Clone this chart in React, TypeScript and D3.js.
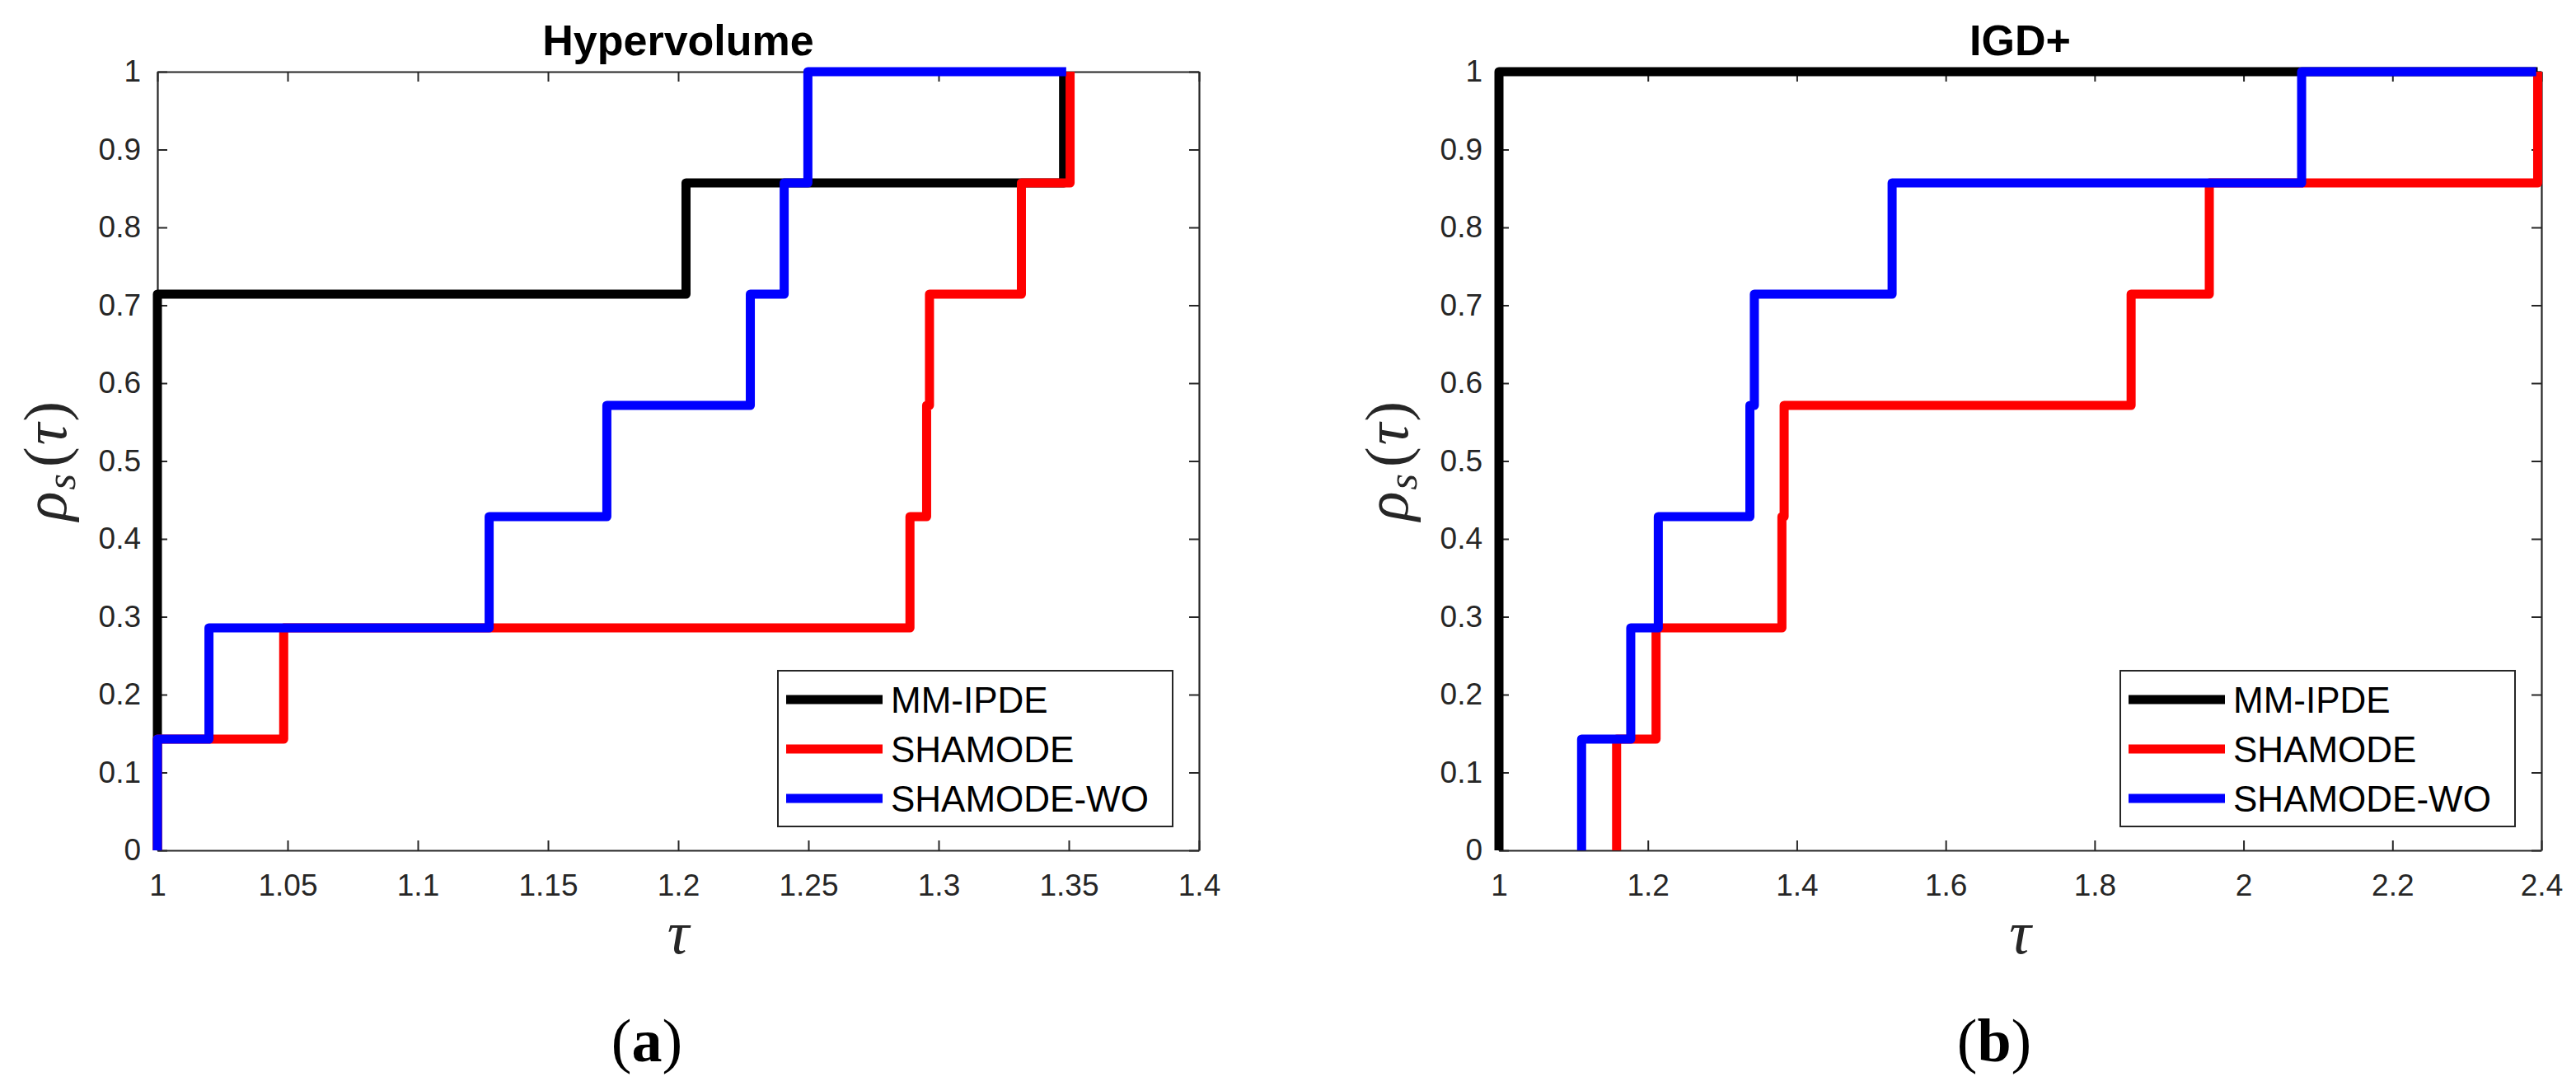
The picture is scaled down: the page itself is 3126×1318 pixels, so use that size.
import { useEffect, useRef } from 'react'
import * as d3 from 'd3'

const algorithms = ['MM-IPDE', 'SHAMODE', 'SHAMODE-WO']
const colors = ['#000000', '#ff0000', '#0000ff']

// sorted performance ratios of the 7 problems, one list per algorithm
const hvMMIPDE = [1, 1, 1, 1, 1, 1.203, 1.348]
const hvSHAMODE = [1, 1.0485, 1.289, 1.2954, 1.2965, 1.3318, 1.3505]
const hvSHAMODEWO = [1, 1.0198, 1.1274, 1.1726, 1.2277, 1.2407, 1.2498]
const hvLineEnds = [1.348, 1.3505, 1.349]

const igdMMIPDE = [1, 1, 1, 1, 1, 1, 1]
const igdSHAMODE = [1.158, 1.211, 1.38, 1.383, 1.849, 1.954, 2.395]
const igdSHAMODEWO = [1.111, 1.177, 1.214, 1.337, 1.343, 1.528, 2.078]
const igdLineEnds = [2.395, 2.395, 2.393]

const hvTicks = [1, 1.05, 1.1, 1.15, 1.2, 1.25, 1.3, 1.35, 1.4]
const igdTicks = [1, 1.2, 1.4, 1.6, 1.8, 2, 2.2, 2.4]
const yTicks = [0, 0.1, 0.2, 0.3, 0.4, 0.5, 0.6, 0.7, 0.8, 0.9, 1]

const panels = [
	{title: 'Hypervolume', domain: [1, 1.4], ticks: hvTicks, series: [hvMMIPDE, hvSHAMODE, hvSHAMODEWO], ends: hvLineEnds, caption: 'a', left: 191, right: 1455, capX: 785},
	{title: 'IGD+', domain: [1, 2.4], ticks: igdTicks, series: [igdMMIPDE, igdSHAMODE, igdSHAMODEWO], ends: igdLineEnds, caption: 'b', left: 1819, right: 3084, capX: 2420},
]

const sans = '"Liberation Sans", Arial, Helvetica, sans-serif'
const serif = '"Liberation Serif", "Times New Roman", serif'
const axisColor = '#262626'

const App = () => {
	const ref = useRef<SVGSVGElement>(null)

	useEffect(() => {
		const svg = d3.select(ref.current)
		svg.selectAll('*').remove()

		const top = 87
		const bottom = 1032
		const y = d3.scaleLinear().domain([0, 1]).range([bottom, top])
		const fmt = (d: any) => String(+(+d).toFixed(2))

		panels.forEach((p) => {
			const x = d3.scaleLinear().domain(p.domain).range([p.left, p.right])
			const g = svg.append('g')

			// box axes, ticks pointing in
			const axes = [
				{axis: d3.axisBottom(x).tickValues(p.ticks).tickFormat(fmt).tickPadding(29), t: `translate(0,${bottom})`},
				{axis: d3.axisTop(x).tickValues(p.ticks).tickFormat(() => ''), t: `translate(0,${top})`},
				{axis: d3.axisLeft(y).tickValues(yTicks).tickFormat(fmt).tickPadding(20), t: `translate(${p.left},0)`},
				{axis: d3.axisRight(y).tickValues(yTicks).tickFormat(() => ''), t: `translate(${p.right},0)`},
			]
			axes.forEach((a) => {
				const ag = g.append('g')
					.attr('transform', a.t)
					.call(a.axis.tickSize(-12).tickSizeOuter(0) as any)
				ag.attr('color', axisColor)
					.attr('font-family', sans)
					.attr('font-size', 37)
				ag.select('.domain').attr('stroke-width', 2.2)
				ag.selectAll('.tick line').attr('stroke-width', 2)
				ag.selectAll('.tick text').attr('fill', axisColor)
			})

			// title
			g.append('text')
				.attr('x', (p.left + p.right) / 2)
				.attr('y', 67)
				.attr('text-anchor', 'middle')
				.attr('font-family', sans)
				.attr('font-weight', 'bold')
				.attr('font-size', 52)
				.attr('fill', '#000')
				.text(p.title)

			// step lines
			const line = d3.line<number[]>()
				.x((d) => x(d[0]))
				.y((d) => y(d[1]))
				.curve(d3.curveStepAfter)

			p.series.forEach((taus, i) => {
				const n = taus.length
				const pts = [[taus[0], 0], ...taus.map((t, k) => [t, (k + 1) / n]), [p.ends[i], 1]]
				g.append('path')
					.attr('d', line(pts))
					.attr('fill', 'none')
					.attr('stroke', colors[i])
					.attr('stroke-width', 11)
					.attr('stroke-linejoin', 'round')
			})

			// legend
			const lw = 479
			const lx = p.right - 32 - lw
			const ly = 814
			const lg = g.append('g')
			lg.append('rect')
				.attr('x', lx)
				.attr('y', ly)
				.attr('width', lw)
				.attr('height', 189)
				.attr('fill', '#fff')
				.attr('stroke', axisColor)
				.attr('stroke-width', 2)
			algorithms.forEach((name, i) => {
				const ry = ly + 35 + i * 60
				lg.append('line')
					.attr('x1', lx + 10)
					.attr('x2', lx + 127)
					.attr('y1', ry)
					.attr('y2', ry)
					.attr('stroke', colors[i])
					.attr('stroke-width', 11)
				lg.append('text')
					.attr('x', lx + 137)
					.attr('y', ry)
					.attr('dy', '0.36em')
					.attr('font-family', sans)
					.attr('font-size', 44)
					.attr('fill', '#000')
					.text(name)
			})

			// y label rho_s(tau)
			const yl = g.append('text')
				.attr('transform', `translate(${p.left - 111},${(top + bottom) / 2}) rotate(-90)`)
				.attr('text-anchor', 'middle')
				.attr('font-family', serif)
				.attr('font-size', 74)
				.attr('fill', axisColor)
			yl.append('tspan').attr('font-style', 'italic').text('ρ')
			yl.append('tspan').attr('font-style', 'italic').attr('font-size', 50).attr('dy', 11).attr('dx', 2).text('s')
			yl.append('tspan').attr('dy', -11).attr('dx', 8).text('(')
			yl.append('tspan').attr('font-style', 'italic').attr('dx', 2).text('τ')
			yl.append('tspan').attr('dx', 2).text(')')

			// x label tau
			g.append('text')
				.attr('x', (p.left + p.right) / 2)
				.attr('y', 1157)
				.attr('text-anchor', 'middle')
				.attr('font-family', serif)
				.attr('font-style', 'italic')
				.attr('font-size', 74)
				.attr('fill', axisColor)
				.text('τ')

			// sub caption
			const cap = g.append('text')
				.attr('x', p.capX)
				.attr('y', 1288)
				.attr('text-anchor', 'middle')
				.attr('font-family', serif)
				.attr('font-size', 74)
				.attr('fill', '#000')
			cap.append('tspan').text('(')
			cap.append('tspan').attr('font-weight', 'bold').text(p.caption)
			cap.append('tspan').text(')')
		})
	}, [])

	return (
		<svg
			ref={ref}
			width={3126}
			height={1318}
			style={{position: 'absolute', left: 0, top: 0, background: '#fff', display: 'block'}}
		/>
	)
}

export default App
